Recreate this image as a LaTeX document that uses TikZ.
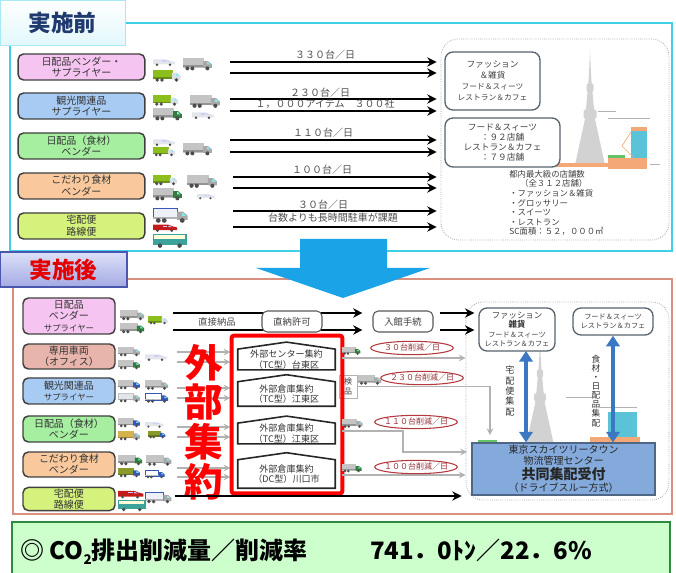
\documentclass[tikz,border=0pt]{standalone}
\usepackage{fontspec}
\setmainfont{Noto Sans CJK JP}
\usetikzlibrary{arrows.meta, positioning, shapes, calc}

\definecolor{frameA}{HTML}{3FCFE6}
\definecolor{frameB}{HTML}{D9907F}
\definecolor{navy}{HTML}{1F3A6E}
\definecolor{pinkbox}{HTML}{F6C4F0}
\definecolor{bluebox}{HTML}{A8CBF3}
\definecolor{greenbox}{HTML}{A6EFA0}
\definecolor{orangebox}{HTML}{F9C89C}
\definecolor{limebox}{HTML}{D5F27C}
\definecolor{rosebox}{HTML}{E8B5AC}
\definecolor{slate}{HTML}{56626E}
\definecolor{towergray}{HTML}{D2D2D2}
\definecolor{bigblue}{HTML}{1AA3E6}
\definecolor{hubblue}{HTML}{84AADC}
\definecolor{handblue}{HTML}{3B78C3}
\definecolor{cutred}{HTML}{B5383F}
\definecolor{mint}{HTML}{CCFFCC}
\definecolor{leaf}{HTML}{2E8B3E}
\definecolor{lavtop}{HTML}{DDE0F8}
\definecolor{lavbot}{HTML}{A3AAE3}
\definecolor{lavedge}{HTML}{4B57AE}
\definecolor{skycyan}{HTML}{5BC3D8}
\definecolor{saffron}{HTML}{F4A878}
% vehicles
\definecolor{boxgray}{HTML}{C4C4C4}
\definecolor{cabgray}{HTML}{A8A8A8}
\definecolor{lime}{HTML}{8CBF1E}
\definecolor{cabwhite}{HTML}{DCDFE6}
\definecolor{cabgreen}{HTML}{2F7F3A}
\definecolor{cabblue}{HTML}{3557B8}
\definecolor{boxtan}{HTML}{D4B24E}
\definecolor{boxolive}{HTML}{8A9A2A}
\definecolor{vanwhite}{HTML}{E2E5EA}
\definecolor{vanred}{HTML}{C41A1A}
\definecolor{busteal}{HTML}{3BA39B}
\definecolor{decowhite}{HTML}{EEF0F8}

\tikzset{
  pics/lorry/.style args={#1/#2/#3}{code={
    \filldraw[fill=#1, draw=#3, line width=0.3pt] (0,0) rectangle (16,7);
    \fill[#1!75!black] (0,6) rectangle (16,7.5);
    \fill[#2] (16,2.5) -- (20,2.5) -- (23,5) -- (23,8) -- (16,8) -- cycle;
    \fill[cabwhite!60!cyan] (19.3,3.3) -- (20,3.3) -- (22,5.2) -- (19.3,5.2) -- cycle;
    \fill[black!70] (3.5,8.3) circle (1.6) (7.5,8.3) circle (1.6) (19.5,8.3) circle (1.6);
  }},
  pics/van/.style={code={
    \fill[#1] (0,2.5) -- (14,2.5) -- (18,4) -- (22,5) -- (22,7.5) -- (0,7.5) -- cycle;
    \fill[white!80!blue] (9,3.3) rectangle (13,4.6);
    \fill[white!80!blue] (14,3.3) -- (17.5,4.6) -- (14,4.6) -- cycle;
    \fill[black!70] (4,7.8) circle (1.4) (17,7.8) circle (1.4);
  }},
  pics/coach/.style={code={
    \fill[busteal] (0,0) rectangle (24,8);
    \fill[white!85!yellow] (1,1) rectangle (23,3.6);
    \fill[black!70] (5,8.3) circle (1.6) (19,8.3) circle (1.6);
  }},
  pics/tower/.style={code={
    \fill[towergray] (0,-115) -- (0.8,-96) -- (1.6,-82) -- (3.5,-80) -- (3.5,-75)
      -- (2.5,-73) -- (4,-56) -- (6.5,-54) -- (6.5,-48) -- (5,-46) -- (15,0)
      -- (-15,0) -- (-5,-46) -- (-6.5,-48) -- (-6.5,-54) -- (-4,-56) -- (-2.5,-73)
      -- (-3.5,-75) -- (-3.5,-80) -- (-1.6,-82) -- (-0.8,-96) -- cycle;
  }}
}

\begin{document}
\begin{tikzpicture}[x=0.75pt, y=-0.75pt,
    supplier/.style={draw=black!75, line width=1.1pt, rounded corners=4pt, align=center,
      text=black!80, font=\fontsize{7.5}{8.8}\selectfont, inner sep=1pt},
    headA/.style={draw=frameA!45, top color=white, bottom color=frameA!15,
      minimum width=93.75pt, minimum height=33.75pt, text=navy,
      font=\fontsize{17}{17}\selectfont\bfseries},
    headB/.style={draw=lavedge, line width=0.8pt, top color=lavtop, bottom color=lavbot,
      minimum width=95.25pt, minimum height=26.25pt, text=red!90!black,
      font=\fontsize{17}{17}\selectfont\bfseries},
    mall/.style={draw=gray!70, densely dotted, line width=0.6pt, rounded corners=13pt},
    shop/.style={draw=slate, line width=1pt, rounded corners=6pt, fill=white, align=center,
      text=black!75, font=\fontsize{6.5}{8.2}\selectfont, inner sep=1pt},
    stats/.style={align=left, text=black!75, font=\fontsize{6.3}{7.2}\selectfont, inner sep=0pt},
    flow/.style={-{Stealth[length=7pt,width=7pt]}, line width=1.5pt, shorten >=3pt},
    feed/.style={-{Stealth[length=5pt,width=5pt]}, line width=1pt, draw=gray!60},
    rate/.style={text=black!70, font=\fontsize{7.5}{8}\selectfont, inner sep=0pt},
    gate/.style={draw=gray!70!black, line width=0.8pt, rounded corners=4pt, fill=white,
      minimum width=45pt, minimum height=15.75pt, text=black!75,
      font=\fontsize{7}{8}\selectfont},
    house/.style={align=center, text=black!80, font=\fontsize{6.8}{7.8}\selectfont,
      minimum width=72.75pt, inner sep=0.5pt},
    housewall/.style={draw=black!85, line width=1.2pt},
    hubframe/.style={draw=red, line width=3pt, rounded corners=1.5pt},
    cut/.style={ellipse, draw=cutred, line width=0.8pt, fill=white, minimum width=62pt,
      minimum height=10pt, inner xsep=-4pt, inner ysep=0pt, text height=4.8pt,
      text depth=0.6pt, text=cutred!80!black, font=\fontsize{6}{6}\selectfont},
    hub/.style={draw=hubblue!60!black, line width=0.8pt, fill=hubblue, align=center,
      minimum width=137.25pt, minimum height=39pt, text=black!85,
      font=\fontsize{7.5}{7.8}\selectfont, inner sep=0pt},
    handoff/.style={{Triangle[length=8pt,width=10pt]}-{Triangle[length=8pt,width=10pt]},
      line width=3.5pt, draw=handblue},
    column/.style={align=center, text=black!80, inner sep=0pt}
]
\useasboundingbox (0,0) rectangle (676,573);

% ================= BEFORE =================
\draw[frameA, line width=2.2pt] (125,23) -- (672,23) -- (672,251) -- (10,251) -- (10,45);
\node[headA] (before) at (62.5,22.5) {実施前};

% mall with the tower behind the shop boxes
\node[mall, minimum width=171pt, minimum height=150.75pt] (mallA) at (555,139.5) {};
\pic at (590,165) {tower};
\fill[saffron] (556,163) rectangle (608,167);
\fill[saffron] (608,158) rectangle (647,169);
\fill[green!60!black!60] (608,155) rectangle (625,158);
\fill[skycyan] (631,131) rectangle (647,158);
\fill[saffron] (631,127) rectangle (647,131);
\draw[saffron, line width=0.5pt] (631,132) -- (622,146) -- (633,157);
\draw[gray!60, line width=0.4pt] (598,111) -- (616,111) (608,118) -- (650,118) (650,164) -- (660,164);
\node[shop, minimum width=71.25pt, minimum height=43.5pt] (shopA1) at (492.5,81)
  {ファッション\\＆雑貨\\{\fontsize{5.8}{7}\selectfont フード＆スィーツ}\\{\fontsize{5.8}{7}\selectfont レストラン＆カフェ}};
\node[shop, minimum width=86.25pt, minimum height=36.75pt, font=\fontsize{6.5}{7.5}\selectfont] (shopA2) at (502.5,142.5)
  {フード＆スィーツ\\：９２店舗\\レストラン＆カフェ\\：７９店舗};
\node[stats, anchor=north west] (stats) at (509,170)
  {都内最大級の店舗数\\\hspace*{1.3em}（全３１２店舗）\\・ファッション＆雑貨\\・グロッサリー\\・スイーツ\\・レストラン\\SC面積：５２，０００㎡};

% suppliers
\foreach \n/\y/\c/\txt in {1/67/pinkbox/{日配品ベンダー・\\サプライヤー},
    2/106/bluebox/{観光関連品\\サプライヤー}, 3/146/greenbox/{日配品（食材）\\ベンダー},
    4/186/orangebox/{こだわり食材\\ベンダー}, 5/226/limebox/{宅配便\\路線便}}
  \node[supplier, fill=\c, minimum width=95pt, minimum height=19.5pt] (pre\n) at (81.5,\y) {\txt};

% deliveries, two lines per supplier
\foreach \i/\xa/\ya/\yb in {1/230/62/73, 2/230/99/111, 3/230/140/152, 4/233/177/188, 5/233/211/227} {
  \coordinate (srcA\i) at (\xa,\ya);
  \coordinate (srcB\i) at (\xa,\yb);
  \draw[flow] (srcA\i) -- (srcA\i -| mallA.west);
  \draw[flow] (srcB\i) -- (srcB\i -| mallA.west);
}
\node[rate] (rate1) at (325,55) {３３０台／日};
\node[rate] (rate2) at (320,93) {２３０台／日};
\node[rate] (items) at (325,104) {１，０００アイテム　３００社};
\node[rate] (rate3) at (323,133) {１１０台／日};
\node[rate] (rate4) at (322,170) {１００台／日};
\node[rate] (rate5) at (323,205) {３０台／日};
\node[rate] (parking) at (333,218) {台数よりも長時間駐車が課題};

% ================= AFTER =================
\draw[frameB, line width=2.2pt] (127,279) -- (672,279) -- (672,514) -- (13,514) -- (13,287);
\node[headB] (after) at (63.5,269.5) {実施後};

% big arrow between the two panels
\fill[bigblue] (300,239) -- (387,239) -- (387,268) -- (430,268) -- (343,298) -- (256,268) -- (300,268) -- cycle;

% mall with the tower
\node[mall, minimum width=152.25pt, minimum height=148.5pt] (mallB) at (567.5,401) {};
\pic[scale=0.9] at (540,443) {tower};
\fill[skycyan] (608,412) rectangle (637,437);
\fill[saffron] (590,437) rectangle (640,443);
\fill[green!60!black!60] (478,440) rectangle (497,443);
\draw[gray!60, line width=0.4pt] (566,397) -- (592,397) (600,407) -- (637,407);
\node[shop, minimum width=57pt, minimum height=32.25pt, font=\fontsize{5.4}{7.2}\selectfont] (shopB1) at (517,329.5)
  {{\fontsize{6.3}{7.2}\selectfont ファッション}\\{\fontsize{6.3}{7.2}\selectfont\bfseries 雑貨}\\フード＆スィーツ\\レストラン＆カフェ};
\node[shop, minimum width=60pt, minimum height=20.25pt, font=\fontsize{5.4}{7.2}\selectfont] (shopB2) at (613,321.5)
  {フード＆スィーツ\\レストラン＆カフェ};
\node[hub] (hubC) at (563.5,469)
  {東京スカイツリータウン\\物流管理センター\\[1pt]{\fontsize{10.5}{10}\selectfont\bfseries 共同集配受付}\\[1pt]（ドライブスルー方式）};
\coordinate (up1) at (526,351);
\draw[handoff] (up1) -- (up1 |- hubC.north);
\draw[handoff] (shopB2.south) -- (shopB2.south |- hubC.north);
\node[column, font=\fontsize{6.8}{7.8}\selectfont] (homeLbl) at (510,391) {宅\\配\\便\\集\\配};
\node[column, font=\fontsize{6.5}{6.8}\selectfont] (foodLbl) at (596,391) {食\\材\\・\\日\\配\\品\\集\\配};

% suppliers
\foreach \n/\y/\h/\c/\txt in {1/316/27/pinkbox/{日配品\\ベンダー\\{\fontsize{6.3}{8}\selectfont サプライヤー}},
    2/356.5/18.75/rosebox/{専用車両\\（オフィス）}, 3/391/19.5/bluebox/{観光関連品\\{\fontsize{6.3}{8}\selectfont サプライヤー}},
    4/429/19.5/greenbox/{日配品（食材）\\ベンダー}, 5/464.5/18.75/orangebox/{こだわり食材\\ベンダー},
    6/499/16.5/limebox/{宅配便\\路線便}}
  \node[supplier, fill=\c, minimum width=69pt, minimum height=\h*1pt,
    font=\fontsize{7.5}{8.4}\selectfont] (post\n) at (69,\y) {\txt};

% direct delivery route
\node[gate] (entry) at (403,321.5) {入館手続};
\coordinate (d1) at (173,313);
\coordinate (d2) at (173,330);
\draw[flow, shorten >=7.5pt] (d1) -- (d1 -| entry.west);
\draw[flow, shorten >=7.5pt] (d2) -- (d2 -| entry.west);
\draw[flow, shorten <=5pt] (d1 -| entry.east) -- (d1 -| shopB1.west);
\draw[flow, shorten <=5pt] (d2 -| entry.east) -- (d2 -| shopB1.west);
\node[gate] (permit) at (292,321.5) {直納許可};
\node[rate, font=\fontsize{7}{8}\selectfont] (direct) at (217,322) {直接納品};

% consolidation hubs
\path (287,414.5) node[minimum width=82.5pt, minimum height=117.75pt] (hubs) {};
\foreach \y in {352,362,388,398,427,437,468,477} {
  \coordinate (f\y) at (177,\y);
  \draw[feed, shorten >=1pt] (f\y) -- (f\y -| hubs.west);
}
\foreach \n/\y/\h/\txt in {1/359.5/13.5/{外部センター集約\\（TC型）台東区},
    2/394/18/{外部倉庫集約\\（TC型）江東区}, 3/433.5/14.25/{外部倉庫集約\\（TC型）江東区},
    4/474/21/{外部倉庫集約\\（DC型）川口市}} {
  \node[house, minimum height=\h*1pt] (h\n) at (286.5,\y) {\txt};
  \draw[housewall] (h\n.north west) -- ($(h\n.north)+(0,-7)$) -- (h\n.north east)
    -- (h\n.south east) -- (h\n.south west) -- cycle;
}
\node[draw=gray!60, fill=white, minimum width=13.5pt, minimum height=17.25pt, inner sep=0pt,
  align=center, text=black!75, font=\fontsize{6}{7.5}\selectfont] (kenpin) at (348,386.5) {検\\品};
\draw[hubframe] (hubs.north west) rectangle (hubs.south east);
\node[text=red, align=center, font=\fontsize{29}{29.8}\selectfont\bfseries] (gaibu) at (204,422) {外\\部\\集\\約};

% reduced runs to the centre
\coordinate (o1) at (342,358);
\coordinate (o3) at (342,431);
\coordinate (o4) at (342,475);
\coordinate (drop) at (490,435);
\draw[feed] (o1) -- (o1 -| mallB.west);
\draw[feed] (kenpin.east) -| (drop);
\draw[feed] (o3) -- ++(61,0) -- ++(0,21) -- ++(64,0);
\draw[feed] (o4) -- (o4 -| mallB.west);
\node[cut] (cut1) at (412,348) {３０台削減／日};
\node[cut] (cut2) at (422,378) {２３０台削減／日};
\node[cut] (cut3) at (416,422) {１１０台削減／日};
\node[cut] (cut4) at (416,467) {１００台削減／日};

% parcel carriers go straight in
\coordinate (b1) at (175,496);
\draw[flow] (b1) -- (b1 -| mallB.west);

% ================= VEHICLES =================
\foreach \x/\y/\s/\b/\c/\e in {183/58/1.25/boxgray/cabgray/boxgray, 153/70/1.2/lime/cabwhite/lime,
    153/95/1.1/lime/cabwhite/lime, 190/95/1.3/boxgray/cabgray/boxgray,
    153/108/1.25/boxgray/cabgreen/boxgray, 183/143/1.25/boxgray/cabgray/boxgray,
    153/147/0.95/lime/cabwhite/lime, 153/175/1.05/lime/cabwhite/lime,
    187/175/1.3/boxgray/cabgray/boxgray, 153/188/1.25/boxgray/cabgreen/boxgray,
    153/208/1.5/decowhite/cabgray/cabblue,
    120/310/1.05/boxgray/cabgray/boxgray, 148/316/0.85/lime/cabwhite/lime,
    120/323/1.05/boxgray/cabgreen/boxgray, 118/347/0.95/boxgray/cabgray/boxgray,
    118/360/0.95/boxgray/cabgreen/boxgray, 118/380/0.95/boxgray/cabblue/boxgray,
    145/380/1.0/boxgray/cabgray/boxgray, 118/393/0.95/vanwhite/cabgray/boxgray,
    145/393/1.0/white/cabblue/cabblue, 118/418/0.95/boxgray/cabblue/boxgray,
    118/431/0.95/boxtan/cabgray/boxtan, 148/431/0.75/boxolive/cabblue/boxolive,
    118/455/1.05/boxgray/cabgreen/boxgray, 146/455/1.1/boxgray/cabgray/boxgray,
    118/468/0.95/boxolive/cabblue/boxolive, 145/470/0.85/white/cabblue/cabblue,
    145/492/1.15/decowhite/cabgray/cabblue,
    342/347/0.8/boxgray/cabgreen/boxgray, 358/375/1.0/boxgray/cabgray/boxgray,
    342/419/0.9/boxgray/cabgray/boxgray, 342/464/0.85/boxgray/cabgreen/boxgray}
  \pic[scale=\s] at (\x,\y) {lorry=\b/\c/\e};
\foreach \x/\y/\s/\c in {153/57/1.0/vanwhite, 192/110/1.0/vanwhite, 153/137/1.0/vanwhite,
    197/192/0.8/vanwhite, 153/222/1.1/vanred, 145/352/1.0/vanwhite, 145/420/0.85/vanwhite,
    118/488/1.15/vanred}
  \pic[scale=\s] at (\x,\y) {van=\c};
\foreach \x/\y/\s in {153/234/1.4, 118/500/1.15}
  \pic[scale=\s] at (\x,\y) {coach};

% ================= RESULT =================
\draw[leaf, line width=2.2pt, fill=mint] (12,522) rectangle (670,578);
\node[anchor=west, inner sep=0pt, font=\fontsize{18}{18}\selectfont\bfseries] (co2) at (20,552)
  {◎ CO\raisebox{-0.35ex}{\fontsize{10}{10}\selectfont 2}排出削減量／削減率\hspace{2.6em}741．0ﾄﾝ／22．6\%};

\end{tikzpicture}
\end{document}
